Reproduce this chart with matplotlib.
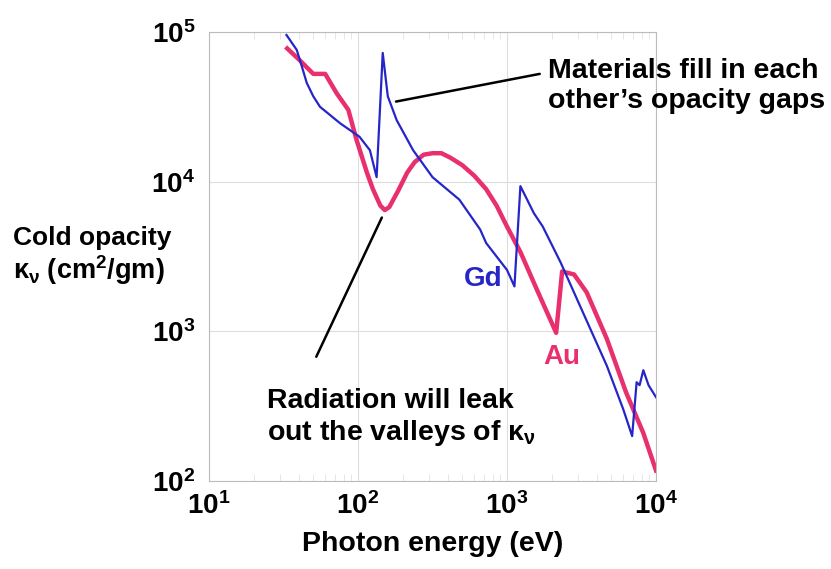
import numpy as np
import matplotlib.pyplot as plt

plt.rcParams['font.family'] = ['Liberation Sans', 'DejaVu Sans']
plt.rcParams['font.weight'] = 'bold'
plt.rcParams['mathtext.fontset'] = 'custom'
plt.rcParams['mathtext.rm'] = 'Liberation Sans:bold'
plt.rcParams['mathtext.it'] = 'Liberation Sans:bold'
plt.rcParams['mathtext.bf'] = 'Liberation Sans:bold'

# log10 values
gd_logx = [1.52, 1.589, 1.62, 1.656, 1.70, 1.745, 1.88, 2.01, 2.08, 2.125, 2.166, 2.20, 2.26,
           2.37, 2.50, 2.68, 2.82, 2.86, 3.0, 3.05, 3.09, 3.18, 3.24, 3.36, 3.49,
           3.67, 3.78, 3.84, 3.87, 3.89, 3.915, 3.95, 4.0]
gd_logy = [4.98, 4.88, 4.78, 4.66, 4.57, 4.50, 4.39, 4.30, 4.21, 4.03, 4.86, 4.57, 4.41,
           4.21, 4.03, 3.88, 3.68, 3.59, 3.41, 3.30, 3.97, 3.79, 3.70, 3.46, 3.17,
           2.77, 2.48, 2.30, 2.66, 2.64, 2.74, 2.64, 2.56]

au_logx = [1.525, 1.61, 1.70, 1.78, 1.857, 1.935, 1.99, 2.06, 2.10, 2.15, 2.18, 2.21,
           2.27, 2.33, 2.38, 2.44, 2.50, 2.56, 2.62, 2.70, 2.78, 2.86, 2.93, 3.0,
           3.09, 3.20, 3.33, 3.37, 3.45, 3.535, 3.67, 3.80, 3.915, 4.0]
au_logy = [4.89, 4.81, 4.72, 4.72, 4.59, 4.48, 4.28, 4.06, 3.95, 3.84, 3.81, 3.83,
           3.94, 4.06, 4.13, 4.18, 4.19, 4.19, 4.16, 4.11, 4.04, 3.95, 3.84, 3.70,
           3.53, 3.28, 2.99, 3.40, 3.38, 3.26, 2.95, 2.59, 2.32, 2.07]

gd_x = 10 ** np.array(gd_logx)
gd_y = 10 ** np.array(gd_logy)
au_x = 10 ** np.array(au_logx)
au_y = 10 ** np.array(au_logy)

blue = '#2626c8'
pink = '#e8306e'

fig = plt.figure(figsize=(8.31, 5.69), dpi=100)
ax = fig.add_axes([0.2515, 0.1547, 0.5379, 0.7891])

ax.plot(au_x, au_y, color=pink, lw=3.2, solid_joinstyle='round')
ax.plot(gd_x, gd_y, color=blue, lw=1.6)

ax.set_xscale('log')
ax.set_yscale('log')
ax.set_xlim(10, 1e4)
ax.set_ylim(100, 1e5)
ax.grid(True, which='major', color='#dddddd', lw=0.8)
for s in ax.spines.values():
    s.set_color('#bbbbbb')
    s.set_linewidth(0.8)
ax.tick_params(which='both', direction='in', top=True, right=True, color='#e2e2e2')
ax.tick_params(which='major', length=0)
ax.tick_params(axis='y', which='minor', length=0)
ax.tick_params(axis='x', which='minor', length=5)
ax.tick_params(axis='x', which='major', labelsize=20, pad=8)
ax.tick_params(axis='y', which='major', labelsize=20, pad=10)

ax.set_xlabel('Photon energy (eV)', fontsize=20.5, fontweight='bold', labelpad=8)

fig.text(13 / 831, 1 - 238 / 569, 'Cold opacity', fontsize=19, va='center', ha='left')
fig.text(13 / 831, 1 - 270 / 569, r'$\kappa_\nu$ (cm$^2$/gm)', fontsize=19.5, va='center', ha='left')

ax.text(10 ** 2.97, 10 ** 3.35, 'Gd', color=blue, fontsize=20, ha='right', va='center')
ax.text(10 ** 3.37, 10 ** 2.83, 'Au', color=pink, fontsize=20, ha='center', va='center')

ax.annotate('Materials fill in each\nother\u2019s opacity gaps', xy=(10 ** 2.255, 10 ** 4.535),
            xytext=(548 / 831, 1 - 86 / 569), textcoords='figure fraction',
            fontsize=20.5, ha='left', va='center', linespacing=1.15,
            arrowprops=dict(arrowstyle='-', color='black', lw=1.8,
                            relpos=(-0.02, 0.73), shrinkA=2, shrinkB=0),
            annotation_clip=False)

ax.annotate('', xy=(10 ** 2.16, 10 ** 3.76), xytext=(10 ** 1.72, 10 ** 2.83),
            arrowprops=dict(arrowstyle='-', color='black', lw=1.8, shrinkA=0, shrinkB=0))
ax.text(10 ** 1.39, 10 ** 2.42, 'Radiation will leak\nout the valleys of $\\kappa_\\nu$',
        fontsize=20.5, ha='left', va='center', linespacing=1.15)

fig.savefig('out.png', dpi=100)
